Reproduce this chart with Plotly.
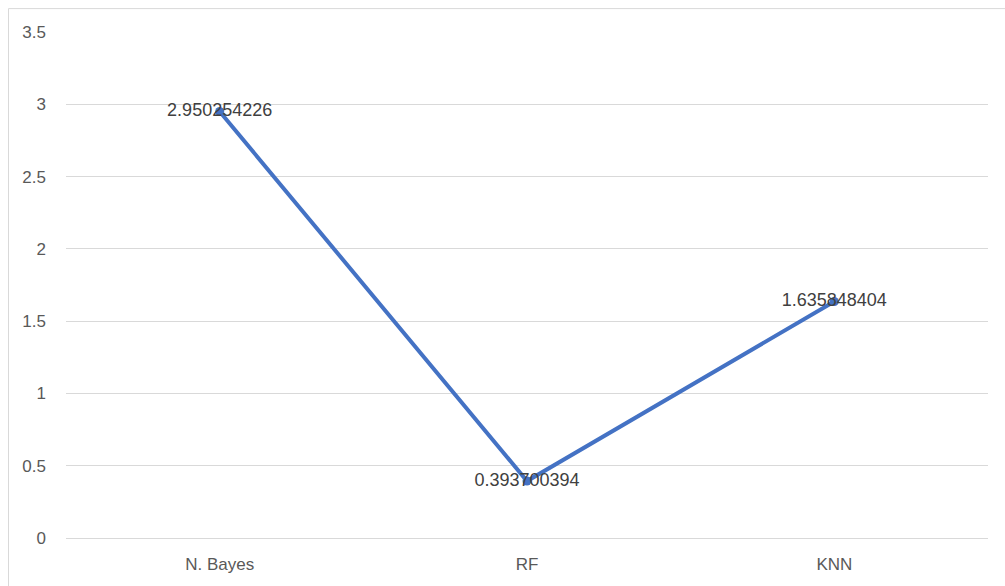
import plotly.graph_objects as go

categories = ["N. Bayes", "RF", "KNN"]
values = [2.950254226, 0.393700394, 1.635848404]
value_labels = ["2.950254226", "0.393700394", "1.635848404"]
y_ticks = [0, 0.5, 1, 1.5, 2, 2.5, 3, 3.5]
y_tick_labels = ["0", "0.5", "1", "1.5", "2", "2.5", "3", "3.5"]

W, H = 1005, 586
L, R, T, B = 66, 17, 32, 46
pw, ph = W - L - R, H - T - B

def px_x(x):
    return (x - L) / pw

def px_y(y):
    return (H - B - y) / ph

FONT = "Liberation Sans, Arial, sans-serif"

fig = go.Figure()
fig.add_trace(go.Scatter(
    x=categories,
    y=values,
    mode="lines+markers+text",
    line=dict(color="#4472C4", width=4),
    marker=dict(color="#4472C4", size=9, symbol="circle"),
    text=value_labels,
    textposition="middle center",
    textfont=dict(family=FONT, size=18, color="#404040"),
    cliponaxis=False,
    showlegend=False,
))

# outer chart frame
fig.add_shape(type="rect", xref="paper", yref="paper",
              x0=px_x(8.5), x1=px_x(1012), y0=px_y(600), y1=px_y(8.5),
              line=dict(color="#d9d9d9", width=1), fillcolor="rgba(0,0,0,0)", layer="below")

fig.update_layout(
    width=W, height=H,
    margin=dict(l=L, r=R, t=T, b=B, pad=0),
    paper_bgcolor="white",
    plot_bgcolor="white",
    font=dict(family=FONT, size=17, color="#595959"),
    xaxis=dict(
        type="category",
        range=[-0.5, 2.5],
        showgrid=False,
        showline=False,
        zeroline=False,
        ticks="",
        ticklabelstandoff=14,
        tickfont=dict(family=FONT, size=17, color="#595959"),
    ),
    yaxis=dict(
        range=[0, 3.5],
        tickvals=y_ticks,
        ticktext=y_tick_labels,
        showgrid=True,
        gridcolor="#d9d9d9",
        gridwidth=1,
        zeroline=True,
        zerolinecolor="#d9d9d9",
        zerolinewidth=1,
        showline=False,
        ticks="",
        ticklabelstandoff=19,
        tickfont=dict(family=FONT, size=17, color="#595959"),
    ),
)

fig.write_html("out.html")
